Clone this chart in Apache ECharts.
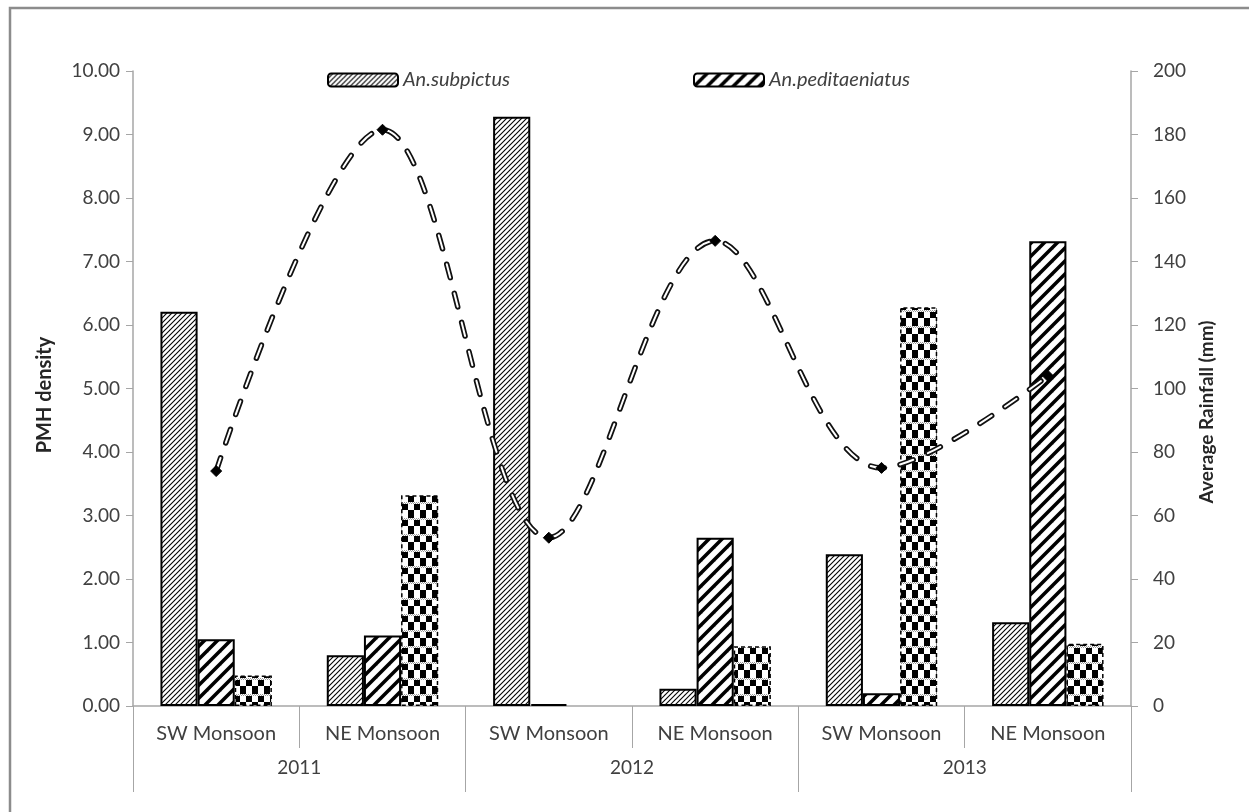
<!DOCTYPE html>
<html>
<head>
<meta charset="utf-8">
<script src="https://cdn.jsdelivr.net/npm/echarts@6/dist/echarts.min.js"></script>
<style>
  html, body { margin: 0; padding: 0; background: #fff; }
  #chart { width: 1249px; height: 812px; }
</style>
</head>
<body>
<div id="chart"></div>
<script>
// Season categories and the year each pair belongs to
const seasons = ['SW Monsoon', 'NE Monsoon', 'SW Monsoon', 'NE Monsoon', 'SW Monsoon', 'NE Monsoon'];
const years = ['2011', '2012', '2013'];

// PMH density per season
const subpictus = [6.21, 0.80, 9.28, 0.27, 2.39, 1.32];
const peditaeniatus = [1.05, 1.11, 0.03, 2.65, 0.20, 7.32];
const others = [0.48, 3.32, 0, 0.94, 6.28, 0.98];

// Average rainfall (mm) per season
const rainfall = [74, 181.5, 53, 146.5, 75, 104];

const leftTicks = { min: 0, max: 10, interval: 1 };
const rightTicks = { min: 0, max: 200, interval: 20 };

const FONT = 'Lato';
const TEXT = '#404040';
const AXIS = '#a6a6a6';

// ---- fill patterns for the bars ----
function makeCanvas(w, h) {
  const c = document.createElement('canvas');
  c.width = w; c.height = h;
  return c;
}
function diagonalHatch(size, lineWidth) {
  const c = makeCanvas(size, size);
  const g = c.getContext('2d');
  g.fillStyle = '#fff';
  g.fillRect(0, 0, size, size);
  g.strokeStyle = '#000';
  g.lineWidth = lineWidth;
  g.lineCap = 'square';
  for (let k = -1; k <= 1; k++) {
    g.beginPath();
    g.moveTo(k * size, size);
    g.lineTo(k * size + size, 0);
    g.stroke();
  }
  return c;
}
function checker() {
  const c = makeCanvas(12, 16);
  const g = c.getContext('2d');
  g.fillStyle = '#fff';
  g.fillRect(0, 0, 12, 16);
  g.fillStyle = '#000';
  g.fillRect(0, 0, 6, 6);
  g.fillRect(6, 8, 6, 6);
  g.fillRect(0, 14, 6, 2);
  // light dotted band
  g.fillStyle = '#9a9a9a';
  for (let x = 0; x < 12; x += 2) {
    g.fillRect(x, 6, 1, 1);
    g.fillRect(x + 1, 7, 1, 1);
  }
  return c;
}

const fineFill = { image: diagonalHatch(5, 1.1), repeat: 'repeat' };
const wideFill = { image: diagonalHatch(13, 3.5), repeat: 'repeat' };
const checkFill = { image: checker(), repeat: 'repeat' };

// zero values get no outline so no flat bar shows on the axis
const noEmptyOutline = arr => arr.map(v => (v === 0 ? { value: v, itemStyle: { borderWidth: 0 } } : v));

const chart = echarts.init(document.getElementById('chart'), null, { renderer: 'canvas' });

const barCommon = {
  type: 'bar',
  xAxisIndex: 0,
  yAxisIndex: 0,
  barGap: '0%',
  barCategoryGap: '33%'
};

const legendText = { fontFamily: FONT, fontStyle: 'italic', fontSize: 20, color: TEXT };

const option = {
  animation: false,
  backgroundColor: '#fff',
  textStyle: { fontFamily: FONT },
  grid: { left: 133, right: 118, top: 71, bottom: 106 },
  legend: [
    {
      data: ['An.subpictus'],
      left: 327, top: 70, padding: 0,
      itemWidth: 70, itemHeight: 13, itemGap: 6,
      textStyle: legendText
    },
    {
      data: ['An.peditaeniatus'],
      left: 693, top: 70, padding: 0,
      itemWidth: 70, itemHeight: 13, itemGap: 6,
      textStyle: legendText
    }
  ],
  xAxis: [
    {
      type: 'category',
      data: seasons,
      position: 'bottom',
      axisLine: { lineStyle: { color: AXIS, width: 1.5 } },
      axisTick: { show: true, interval: 0, length: 42, lineStyle: { color: AXIS } },
      axisLabel: { interval: 0, margin: 18, fontFamily: FONT, fontSize: 20, color: TEXT }
    },
    {
      type: 'category',
      data: years,
      position: 'bottom',
      axisLine: { show: false },
      axisTick: { show: true, interval: 0, length: 86, lineStyle: { color: AXIS } },
      axisLabel: { interval: 0, margin: 52, fontFamily: FONT, fontSize: 19, color: TEXT }
    }
  ],
  yAxis: [
    {
      type: 'value',
      min: leftTicks.min, max: leftTicks.max, interval: leftTicks.interval,
      position: 'left',
      splitLine: { show: false },
      axisLine: { show: true, lineStyle: { color: AXIS, width: 1.5 } },
      axisTick: { show: true, length: 7, lineStyle: { color: AXIS } },
      axisLabel: { margin: 13, fontFamily: FONT, fontSize: 19, color: TEXT,
        formatter: v => v.toFixed(2) }
    },
    {
      type: 'value',
      min: rightTicks.min, max: rightTicks.max, interval: rightTicks.interval,
      position: 'right',
      splitLine: { show: false },
      axisLine: { show: true, lineStyle: { color: AXIS, width: 1.5 } },
      axisTick: { show: true, length: 7, lineStyle: { color: AXIS } },
      axisLabel: { margin: 22, fontFamily: FONT, fontSize: 19, color: TEXT }
    }
  ],
  graphic: [
    {
      type: 'rect', silent: true, z: -1,
      shape: { x: 10, y: 8, width: 1400, height: 1000 },
      style: { fill: 'none', stroke: '#8c8c8c', lineWidth: 2.5 }
    },
    {
      type: 'text', x: 45, y: 395, rotation: Math.PI / 2,
      style: { text: 'PMH density', fontFamily: FONT, fontWeight: 'bold', fontSize: 20,
        fill: '#262626', align: 'center', verticalAlign: 'middle' }
    },
    {
      type: 'text', x: 1207, y: 412, rotation: Math.PI / 2,
      style: { text: 'Average Rainfall (mm)', fontFamily: FONT, fontWeight: 'bold', fontSize: 19,
        fill: '#262626', align: 'center', verticalAlign: 'middle' }
    }
  ],
  series: [
    Object.assign({}, barCommon, {
      name: 'An.subpictus',
      data: noEmptyOutline(subpictus),
      itemStyle: { color: fineFill, borderColor: '#000', borderWidth: 2 }
    }),
    Object.assign({}, barCommon, {
      name: 'An.peditaeniatus',
      data: noEmptyOutline(peditaeniatus),
      itemStyle: { color: wideFill, borderColor: '#000', borderWidth: 2 }
    }),
    Object.assign({}, barCommon, {
      name: 'Others',
      data: noEmptyOutline(others),
      itemStyle: { color: checkFill, borderColor: '#000', borderWidth: 1.5, borderType: [4, 3] }
    }),
    {
      name: 'Rainfall outline',
      type: 'line',
      xAxisIndex: 0,
      yAxisIndex: 1,
      data: rainfall,
      smooth: 0.35,
      showSymbol: false,
      z: 5,
      lineStyle: { color: '#111', width: 5.5, type: [14, 16], cap: 'round' }
    },
    {
      name: 'Rainfall',
      type: 'line',
      xAxisIndex: 0,
      yAxisIndex: 1,
      data: rainfall,
      smooth: 0.35,
      symbol: 'diamond',
      symbolSize: 11,
      showSymbol: true,
      z: 6,
      itemStyle: { color: '#000', borderColor: '#000' },
      lineStyle: { color: '#fff', width: 2, type: [14, 16], cap: 'round' }
    }
  ]
};

chart.setOption(option);
</script>
</body>
</html>
